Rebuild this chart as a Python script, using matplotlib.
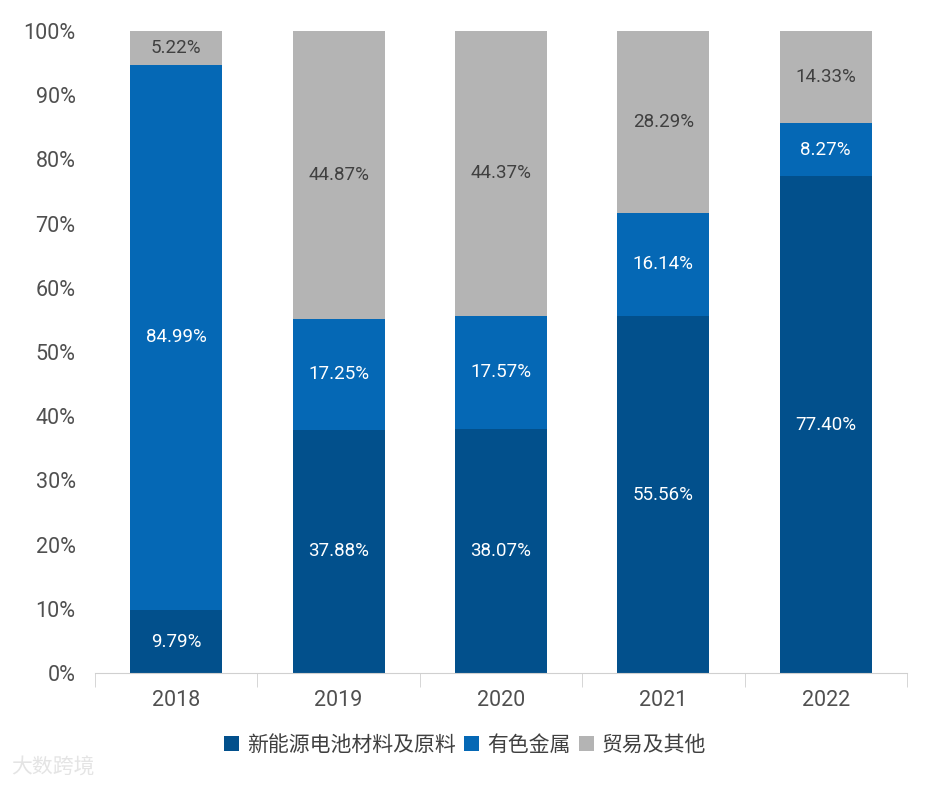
import matplotlib
matplotlib.use('Agg')
from matplotlib import pyplot as plt
from matplotlib.ticker import FixedLocator, PercentFormatter
import numpy as np

plt.rcParams['font.family'] = ['Roboto', 'Noto Sans CJK SC', 'DejaVu Sans']

years = ['2018', '2019', '2020', '2021', '2022']
battery = [9.79, 37.88, 38.07, 55.56, 77.40]
metals = [84.99, 17.25, 17.57, 16.14, 8.27]
trade = [5.22, 44.87, 44.37, 28.29, 14.33]
series_names = ['新能源电池材料及原料', '有色金属', '贸易及其他']

colors = ['#02508C', '#0568B5', '#B4B4B4']
text_colors = ['white', 'white', '#404040']

fig = plt.figure(figsize=(9.36, 7.85), dpi=100)
ax = fig.add_axes([0.1015, 0.1427, 0.8675, 0.8178])

x = np.arange(len(years))
bottom = np.zeros(len(years))
for vals, name, c, tc in zip([battery, metals, trade], series_names, colors, text_colors):
    vals = np.array(vals)
    ax.bar(x, vals, 0.567, bottom=bottom, color=c, label=name, zorder=2)
    for xi, b, v in zip(x, bottom, vals):
        ax.text(xi, b + v / 2, f'{v:.2f}%', ha='center', va='center',
                color=tc, fontsize=13.5, zorder=3)
    bottom += vals

ax.set_xlim(-0.5, 4.5)
ax.set_ylim(0, 100)
ax.set_yticks(np.arange(0, 101, 10))
ax.yaxis.set_major_formatter(PercentFormatter(decimals=0))
ax.set_xticks(x)
ax.set_xticklabels(years)
ax.xaxis.set_minor_locator(FixedLocator(np.arange(-0.5, 4.6, 1)))
ax.tick_params(axis='x', which='major', length=0, pad=12, labelsize=15.5, labelcolor='#505050')
ax.tick_params(axis='x', which='minor', length=10, color='#D0D0D0')
ax.tick_params(axis='y', length=0, pad=14, labelsize=15.5, labelcolor='#505050')

for s in ['top', 'right', 'left']:
    ax.spines[s].set_visible(False)
ax.spines['bottom'].set_color('#D0D0D0')

leg = fig.legend(loc='center', bbox_to_anchor=(0.497, 0.051), ncol=3, frameon=False,
                 prop={'size': 15, 'weight': 'medium'}, handlelength=0.7, handleheight=0.7,
                 handletextpad=0.4, columnspacing=0.4)
for t in leg.get_texts():
    t.set_color('#404040')

fig.text(0.012, 0.022, '大数跨境', fontsize=15, color='#E4E4E4', ha='left', va='center')

fig.savefig('out.png', dpi=100)
